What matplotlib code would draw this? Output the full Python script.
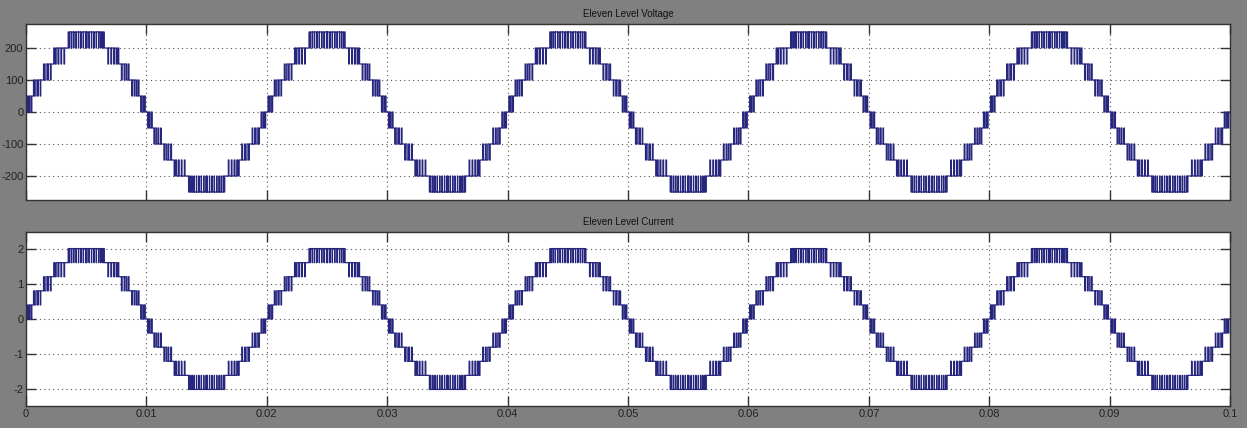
import numpy as np
import matplotlib.pyplot as plt

# quarter cycle of the staircase PWM (time in ms, level index after that instant)
quarter_t = [0.00, 0.10, 0.18, 0.28, 0.40, 0.48,
             0.62, 0.70, 0.82, 0.95, 1.02, 1.18, 1.22,
             1.45, 1.52, 1.65, 1.78, 1.85, 2.02, 2.08,
             2.30, 2.40, 2.50, 2.65, 2.72, 2.90, 2.95, 3.15, 3.20,
             3.50, 3.58, 3.63, 3.77, 3.80, 3.95, 3.97, 4.15, 4.17,
             4.35, 4.37, 4.55, 4.57, 4.75, 4.77, 4.95, 4.97]
quarter_lvl = [0, 1, 0, 1, 0, 1,
               2, 1, 2, 1, 2, 1, 2,
               3, 2, 3, 2, 3, 2, 3,
               4, 3, 4, 3, 4, 3, 4, 3, 4,
               5, 4, 5, 4, 5, 4, 5, 4, 5,
               4, 5, 4, 5, 4, 5, 4, 5]

volt_step = 50.0     # V per level
curr_step = 0.4      # A per level
n_cycles = 5
period_ms = 20.0

volt_ticks = [-200, -100, 0, 100, 200]
curr_ticks = [-2, -1, 0, 1, 2]
x_ticks = [0, 0.01, 0.02, 0.03, 0.04, 0.05, 0.06, 0.07, 0.08, 0.09, 0.1]
x_labels = ['0', '0.01', '0.02', '0.03', '0.04', '0.05', '0.06', '0.07', '0.08', '0.09', '0.1']


def build_wave():
    qt = np.array(quarter_t)
    ql = np.array(quarter_lvl)
    half = period_ms / 2
    # mirror the quarter about the peak
    ends = np.append(qt[1:], half / 2)
    mt = half - ends[::-1]
    ml = ql[::-1]
    ht = np.concatenate([qt, mt])
    hl = np.concatenate([ql, ml])
    tt, ll = [], []
    for c in range(n_cycles):
        tt.append(ht + c * period_ms)
        ll.append(hl)
        tt.append(ht + c * period_ms + half)
        ll.append(-hl)
    t = np.concatenate(tt + [[n_cycles * period_ms]])
    l = np.concatenate(ll + [[0]])
    return t / 1000.0, l


t, lvl = build_wave()

plt.rcParams['font.family'] = ['Liberation Sans', 'DejaVu Sans']
plt.rcParams['axes.unicode_minus'] = False
fig = plt.figure(figsize=(12.47, 4.28), dpi=100, facecolor='#808080')

ax1 = fig.add_axes([0.0209, 0.5327, 0.9655, 0.4112])
ax2 = fig.add_axes([0.0209, 0.0514, 0.9655, 0.4065])

line_col = '#26267f'

ax1.plot(t, lvl * volt_step, drawstyle='steps-post', color=line_col, lw=0.9)
ax2.plot(t, lvl * curr_step, drawstyle='steps-post', color=line_col, lw=0.9)

ax1.set_ylim(-275, 275)
ax1.set_yticks(volt_ticks)
ax2.set_ylim(-2.47, 2.47)
ax2.set_yticks(curr_ticks)

for ax in (ax1, ax2):
    ax.set_facecolor('white')
    ax.set_xlim(0, 0.1)
    ax.set_xticks(x_ticks)
    ax.grid(True, linestyle=(0, (1, 3)), color='#555555', lw=0.8)
    ax.tick_params(direction='in', length=7, width=1, color='#333333',
                   top=True, right=True, labelsize=8, pad=2, labelcolor='#222222')
    for s in ax.spines.values():
        s.set_color('#333333')
        s.set_linewidth(1)

ax1.set_xticklabels([])
ax2.set_xticklabels(x_labels)

ax1.set_title('Eleven Level Voltage', fontsize=7, color='#111111', pad=5)
ax2.set_title('Eleven Level Current', fontsize=7, color='#111111', pad=5)

fig.savefig('out.png', dpi=100, facecolor=fig.get_facecolor())
